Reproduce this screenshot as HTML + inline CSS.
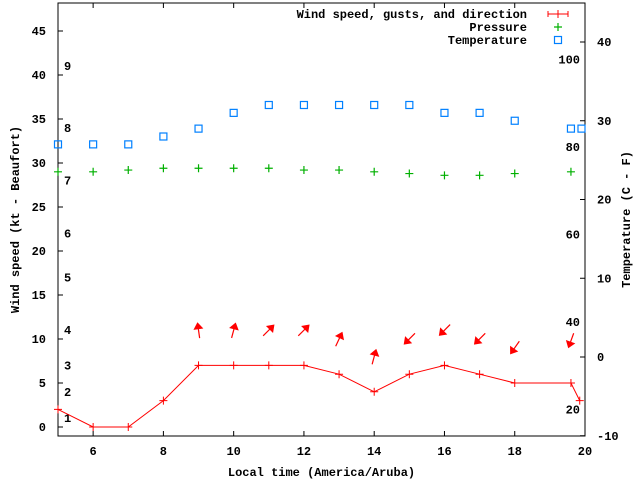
<!DOCTYPE html>
<html><head><meta charset="utf-8"><style>
body{margin:0;background:#fff}
svg{display:block;font-family:"Liberation Mono",monospace;font-size:12px;font-weight:bold}
</style></head><body>
<svg id="chart" width="640" height="480" viewBox="0 0 640 480" xmlns="http://www.w3.org/2000/svg"></svg>
<script>
const xTicks=[6,8,10,12,14,16,18,20];
const yTicks=[0,5,10,15,20,25,30,35,40,45];
const y2Ticks=[-10,0,10,20,30,40];
const beaufortLabels=["1","2","3","4","5","6","7","8","9"];
const beaufortKt=[1,4,7,11,17,22,28,34,41];
const fLabels=["20","40","60","80","100"];
const fValues=[20,40,60,80,100];
const windHours=[5,6,7,8,9,10,11,12,13,14,15,16,17,18,19.6,19.85];
const windKt=[2,0,0,3,7,7,7,7,6,4,6,7,6,5,5,3];
const pressHours=[5,6,7,8,9,10,11,12,13,14,15,16,17,18,19.6];
const pressVals=[29.0,29.0,29.2,29.4,29.4,29.4,29.4,29.2,29.2,29.0,28.8,28.6,28.6,28.8,29.0];
const tempHours=[5,6,7,8,9,10,11,12,13,14,15,16,17,18,19.6,19.9];
const tempC=[27,27,27,28,29,31,32,32,32,32,32,31,31,30,29,29];
const arrowHours=[9,10,11,12,13,14,15,16,17,18,19.6];
const arrowKt=[11,11,11,11,10,8,10,11,10,9,9.8];
const arrowDir=[-8,15,45,45,25,15,225,225,225,215,200];

const L=58,R=585,T=3,B=436;
const x=h=>L+(h-5)*(R-L)/15;
const y=v=>427-v*8.8;
const y2=c=>357-c*7.875;
const svg=document.getElementById('chart');
const NS='http://www.w3.org/2000/svg';
function mk(tag,attrs,parent){const e=document.createElementNS(NS,tag);for(const k in attrs)e.setAttribute(k,attrs[k]);(parent||svg).appendChild(e);return e;}
function txt(s,X,Y,anchor,name,extra){const e=mk('text',Object.assign({x:X,y:Y,'text-anchor':anchor||'middle'},extra||{}));e.textContent=s;


return e;}

const frame=mk('rect',{x:L,y:T,width:R-L,height:B-T,fill:'none',stroke:'#000','stroke-width':1});



xTicks.forEach(h=>{
 const t=mk('path',{d:`M${x(h)},${B}v-5M${x(h)},${T}v5`,stroke:'#000'});
 
 
 txt(String(h),x(h),B+19,'middle','x-tick-label');
});
yTicks.forEach(v=>{
 const t=mk('path',{d:`M${L},${y(v)}h5`,stroke:'#000'});
 
 
 txt(String(v),L-12,y(v)+4,'end','y-tick-label');
});
y2Ticks.forEach(c=>{
 const t=mk('path',{d:`M${R},${y2(c)}h-5`,stroke:'#000'});
 
 
 txt(String(c),R+12,y2(c)+4,'start','y2-tick-label');
});
beaufortLabels.forEach((s,i)=>txt(s,64,y(beaufortKt[i])+4,'start','beaufort-label'));
fLabels.forEach((s,i)=>txt(s,580,y2((fValues[i]-32)*5/9)+4,'end','fahrenheit-label'));

txt('Local time (America/Aruba)',(L+R)/2,476,'middle','x-axis-title');
txt('Wind speed (kt - Beaufort)',0,0,'middle','y-axis-title',{transform:`translate(19,${(T+B)/2}) rotate(-90)`});
txt('Temperature (C - F)',0,0,'middle','y2-axis-title',{transform:`translate(630,${(T+B)/2}) rotate(-90)`});

// wind line
const wl=mk('polyline',{points:windHours.map((h,i)=>`${x(h)},${y(windKt[i])}`).join(' '),fill:'none',stroke:'#f00','stroke-width':1});


windHours.forEach((h,i)=>{
 const p=mk('path',{d:`M${x(h)-4},${y(windKt[i])}h8M${x(h)},${y(windKt[i])-4}v8`,stroke:'#f00'});
 
 
});
// arrows
arrowHours.forEach((h,i)=>{
 const g=mk('g',{transform:`translate(${x(h)},${y(arrowKt[i])}) rotate(${arrowDir[i]})`});
 
 
 mk('line',{x1:0,y1:8,x2:0,y2:-4,stroke:'#f00','stroke-width':1.2},g);
 mk('polygon',{points:'0,-8 -5,-1 5,-1',fill:'#f00'},g);
});
// pressure
pressHours.forEach((h,i)=>{
 const p=mk('path',{d:`M${x(h)-4},${y(pressVals[i])}h8M${x(h)},${y(pressVals[i])-4}v8`,stroke:'#00b000','stroke-width':1.2});
 
 
});
// temperature
tempHours.forEach((h,i)=>{
 const p=mk('rect',{x:x(h)-3.5,y:y2(tempC[i])-3.5,width:7,height:7,fill:'none',stroke:'#0080ff','stroke-width':1.2});
 
 
});
// legend
txt('Wind speed, gusts, and direction',527,18,'end','legend-wind');
const lw=mk('path',{d:'M548,14h20M548,11v6M568,11v6M558,10v8',stroke:'#f00'});


txt('Pressure',527,31,'end','legend-pressure');
const lp=mk('path',{d:'M554,27h8M558,23v8',stroke:'#00b000','stroke-width':1.2});


txt('Temperature',527,44,'end','legend-temperature');
const lt=mk('rect',{x:554.5,y:36.5,width:7,height:7,fill:'none',stroke:'#0080ff','stroke-width':1.2});


</script>
</body></html>
